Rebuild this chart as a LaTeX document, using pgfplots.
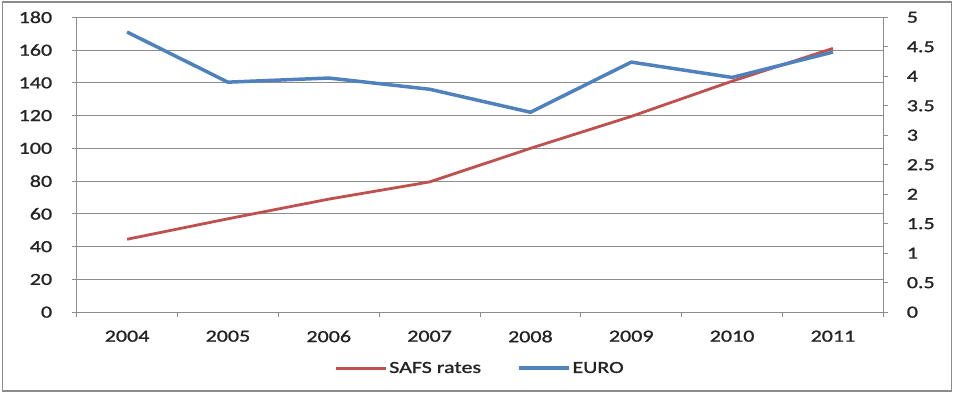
\documentclass[border=0pt]{standalone}
\usepackage{pgfplots}
\pgfplotsset{compat=1.18}
\usepackage{fontspec}
\setmainfont{Carlito}[FakeStretch=1.3, FakeBold=1.2]
\definecolor{safs}{RGB}{192,80,77}
\definecolor{euro}{RGB}{79,129,189}
\definecolor{gridc}{RGB}{140,140,140}
\definecolor{txt}{RGB}{35,35,35}
\begin{document}
\begin{tikzpicture}
\pgfplotsset{
  common/.style={
    scale only axis, width=807bp, height=295bp,
    xmin=-0.5, xmax=7.5,
    tick align=outside,
    axis line style={gridc, line width=0.8bp, -},
    tick style={gridc, line width=0.8bp},
    major tick length=5bp, minor tick length=5bp,
    tick label style={font=\fontsize{17}{19}\selectfont, text=txt},
    /pgf/number format/assume math mode=true,
    clip=false,
  }
}
\begin{axis}[common, name=main,
  ymin=0, ymax=180,
  axis y line*=left, axis x line*=bottom,
  xtick={0,1,2,3,4,5,6,7},
  xticklabels={2004,2005,2006,2007,2008,2009,2010,2011},
  minor xtick={-0.5,0.5,1.5,2.5,3.5,4.5,5.5,6.5,7.5},
  major x tick style={draw=none},
  ytick={0,20,40,60,80,100,120,140,160,180},
  ymajorgrids, grid style={gridc, line width=0.8bp},
  yticklabel style={xshift=-16bp},
  xticklabel style={yshift=-10bp},
]
\addplot[safs, line width=2.8bp, line join=round] coordinates {
(0,44.5) (1,57) (2,69) (3,79.5) (4,100) (5,119.5) (6,141) (7,161)};
\end{axis}
\begin{axis}[common,
  ymin=0, ymax=5,
  axis y line*=right, axis x line=none,
  ytick={0,0.5,1,1.5,2,2.5,3,3.5,4,4.5,5},
  yticklabel style={xshift=15bp},
  legend style={at={(0.5,-0.19)}, anchor=center, draw=none, fill=none,
    font=\fontsize{17}{19}\selectfont, text=txt, legend columns=2,
    /tikz/every even column/.append style={column sep=34bp},
    inner sep=0pt},
  legend image code/.code={\draw[#1] (0bp,0bp) -- (50bp,0bp);},
]
\addlegendimage{safs, line width=3bp}
\addlegendentry{SAFS rates}
\addplot[euro, line width=3.5bp, line join=round] coordinates {
(0,4.75) (1,3.90) (2,3.97) (3,3.78) (4,3.39) (5,4.24) (6,3.98) (7,4.41)};
\addlegendentry{EURO}
\end{axis}
\draw[gridc, line width=1.5bp] ([shift={(-74bp,-79bp)}]main.south west) rectangle ([shift={(68.4bp,15.3bp)}]main.north east);
\pgfresetboundingbox
\path[use as bounding box] ([shift={(-76.7bp,-81.3bp)}]main.south west) rectangle ([shift={(69.7bp,17.3bp)}]main.north east);
\end{tikzpicture}
\end{document}
